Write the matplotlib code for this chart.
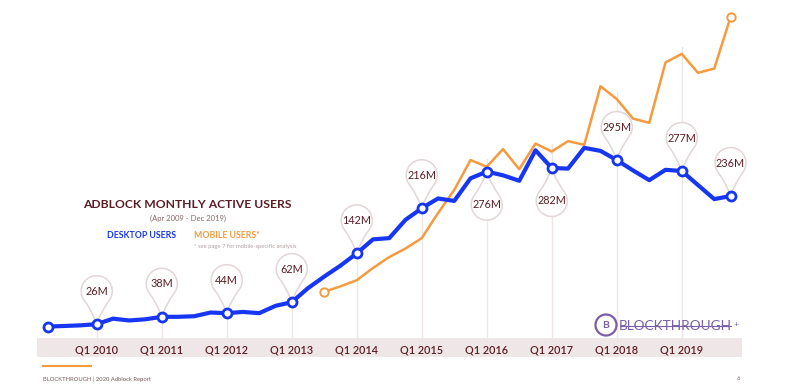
import matplotlib.pyplot as plt
import matplotlib.transforms as mtransforms
from matplotlib.path import Path
from matplotlib.patches import PathPatch, Rectangle, Circle
import numpy as np

plt.rcParams['font.family'] = ['Lato', 'DejaVu Sans']

# quarterly data, Q2 2009 .. Q4 2019 (millions)
desktop = [22, 23, 24,
           26, 35, 32, 34,
           38, 38, 39, 45,
           44, 46, 44, 56,
           62, 85, 104, 122,
           142, 165, 167, 197,
           216, 232, 228, 265,
           276, 270, 261, 311,
           282, 281, 315, 310,
           295, 278, 262, 279,
           277, 254, 231, 236]

# mobile starts Q3 2013
mobile_start = 17
mobile = [79, 88,
          98, 118, 136, 150,
          167, 208, 246, 295,
          284, 313, 280, 322,
          309, 326, 320, 416,
          395, 363, 356, 455,
          469, 438, 445, 529]

years = [2010, 2011, 2012, 2013, 2014, 2015, 2016, 2017, 2018, 2019]
year_labels = ['Q1 %d' % y for y in years]
year_idx = [3 + 4 * i for i in range(len(years))]

# pins: quarter index, text, direction (1 above, -1 below)
pin_idx = [3, 7, 11, 15, 19, 23, 27, 31, 35, 39, 42]
pin_text = ['26M', '38M', '44M', '62M', '142M', '216M', '276M', '282M', '295M', '277M', '236M']
pin_dir = [1, 1, 1, 1, 1, 1, -1, -1, 1, 1, 1]

BLUE = '#1636f2'
ORANGE = '#f79a3d'
MAROON = '#5a1d24'
PINK = '#e3d6d6'
BAND = '#efe7e7'

W, H = 800, 390
fig = plt.figure(figsize=(8, 3.9), dpi=100)
# axes bottom at the zero line (pixel 340 from top)
x0_px, dx_px = 48, 16.25
y0_px, dy_px = 340, 0.61
ax = fig.add_axes([0, (H - y0_px) / H, 1, y0_px / H])
ax.set_xlim(-x0_px / dx_px, (W - x0_px) / dx_px)
ax.set_ylim(0, y0_px / dy_px)
for s in ax.spines.values():
    s.set_visible(False)
ax.set_yticks([])
ax.set_xticks(year_idx, year_labels)
ax.tick_params(axis='x', length=0, pad=3.5, labelsize=7.8, labelcolor=MAROON)
for lb in ax.get_xticklabels():
    lb.set_fontweight('semibold')

# axis band
ax.add_patch(Rectangle((-0.7, -28), 43.4, 31, facecolor=BAND, edgecolor='none',
                       clip_on=False, zorder=0))

x_desk = np.arange(len(desktop))
x_mob = np.arange(mobile_start, mobile_start + len(mobile))

# vertical guide lines at Q1 of each year
for i in year_idx:
    top = desktop[i]
    if i >= mobile_start:
        top = max(top, mobile[i - mobile_start])
    ax.plot([i, i], [0, top + 12], color='#efe5e5', lw=1, zorder=1, clip_on=False)

ax.plot(x_mob, mobile, color=ORANGE, lw=1.8, zorder=3, clip_on=False)
ax.plot([x_mob[0], x_mob[-1]], [mobile[0], mobile[-1]], 'o', ms=6, mfc='white',
        mec=ORANGE, mew=1.4, zorder=4, clip_on=False)
ax.plot(x_desk, desktop, color=BLUE, lw=3, zorder=5, solid_joinstyle='round', clip_on=False)
mk = [0] + pin_idx
ax.plot(x_desk[mk], [desktop[i] for i in mk], 'o', ms=6.5, mfc='white', mec=BLUE,
        mew=2, zorder=6, clip_on=False)


def pin_path(r=15.5, h=33):
    a = np.radians(np.linspace(-38, 218, 60))
    arc = np.column_stack([r * np.cos(a), h + r * np.sin(a)])
    verts = [(0, 0), (4, 12), tuple(arc[0])] + [tuple(p) for p in arc[1:]] + [(-4, 12), (0, 0), (0, 0)]
    codes = [Path.MOVETO, Path.CURVE3, Path.CURVE3] + [Path.LINETO] * (len(arc) - 1) + \
            [Path.CURVE3, Path.CURVE3, Path.CLOSEPOLY]
    return Path(verts, codes)


base = pin_path()
for i, t, d in zip(pin_idx, pin_text, pin_dir):
    v = desktop[i]
    tr = mtransforms.Affine2D().scale(1, d) + mtransforms.ScaledTranslation(i, v, ax.transData)
    ax.add_patch(PathPatch(base, transform=tr, facecolor='white', edgecolor=PINK,
                           lw=1.1, zorder=4, clip_on=False))
    ax.annotate(t, xy=(i, v), xytext=(0, 33 * d), textcoords='offset pixels',
                ha='center', va='center', fontsize=7.8, color=MAROON, zorder=7)


def fx(px):
    return px / W


def fy(py):
    return 1 - py / H


fig.text(fx(187), fy(205), 'ADBLOCK MONTHLY ACTIVE USERS', ha='center', va='center',
         fontsize=8.7, fontweight='bold', color=MAROON)
fig.text(fx(188), fy(218), '(Apr 2009 - Dec 2019)', ha='center', va='center',
         fontsize=5.5, color='#8a6a6a')
fig.text(fx(107), fy(236), 'DESKTOP USERS', ha='left', va='center',
         fontsize=6.3, fontweight='bold', color=BLUE)
fig.text(fx(194), fy(236), 'MOBILE USERS*', ha='left', va='center',
         fontsize=6.3, fontweight='bold', color=ORANGE)
fig.text(fx(194), fy(246.5), '* see page 7 for mobile-specific analysis', ha='left', va='center',
         fontsize=4.2, color='#b0a0a0')

# logo
PURPLE = '#7a5fa6'
fig.patches.append(Circle((606, H - 325), 10.5, transform=None, facecolor='none',
                          edgecolor=PURPLE, lw=1.6))
fig.text(fx(606), fy(325.5), 'B', ha='center', va='center', fontsize=7.5,
         fontweight='bold', color=PURPLE)
fig.text(fx(619), fy(325.5), 'BLOCKTHROUGH', ha='left', va='center', fontsize=9.8,
         color=PURPLE)
fig.add_artist(plt.Line2D([fx(620), fx(731)], [fy(325.5), fy(325.5)], color=PURPLE, lw=0.8))
fig.text(fx(736), fy(325), '+', ha='center', va='center', fontsize=6, color=PURPLE)

# footer
fig.add_artist(plt.Line2D([fx(43), fx(91)], [fy(366), fy(366)], color=ORANGE, lw=1.5))
fig.text(fx(43), fy(379), 'BLOCKTHROUGH | 2020 Adblock Report', ha='left', va='center',
         fontsize=4.2, color='#7a5a5a')
fig.text(fx(738), fy(378), '6', ha='center', va='center', fontsize=4.2, color='#7a5a5a')

fig.savefig('out.png', dpi=100)
